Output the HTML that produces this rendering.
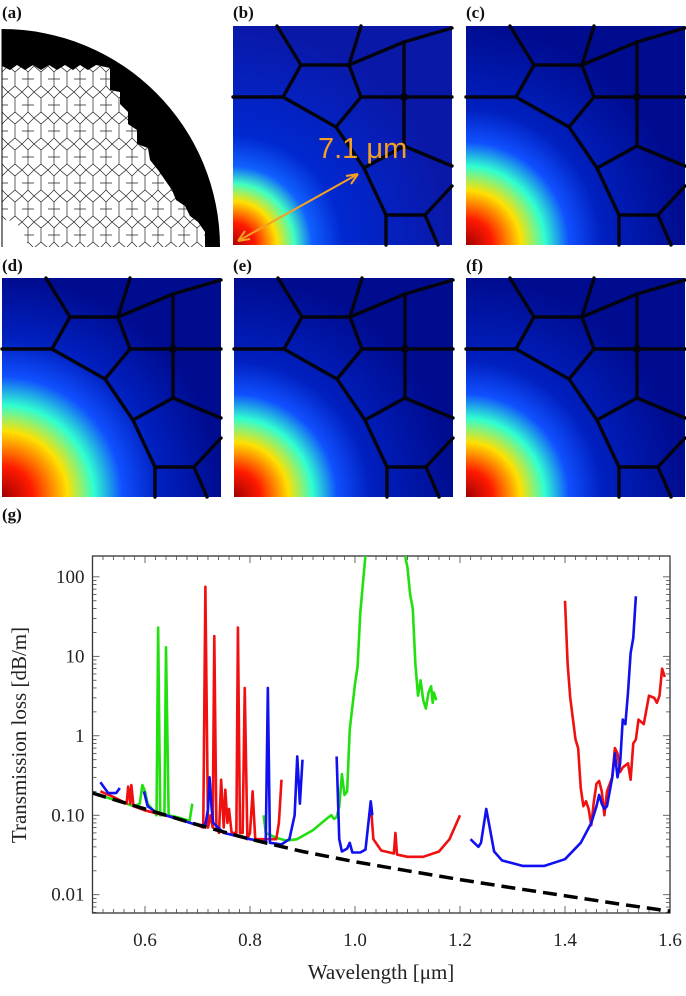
<!DOCTYPE html>
<html><head><meta charset="utf-8"><style>
body{margin:0;background:#fff;width:686px;height:991px;overflow:hidden;font-family:"Liberation Serif",serif;}
svg text{font-family:"Liberation Serif",serif;}
</style></head><body>
<svg id="root" width="686" height="991" viewBox="0 0 686 991" xmlns="http://www.w3.org/2000/svg">
<defs>
<radialGradient id="modeB" cx="0" cy="219" r="219" gradientUnits="userSpaceOnUse">
<stop offset="0" stop-color="#b00000"/><stop offset="0.1" stop-color="#ff1a00"/><stop offset="0.2" stop-color="#ffe000"/><stop offset="0.28" stop-color="#40ffc0"/><stop offset="0.36" stop-color="#1060ff"/><stop offset="0.5" stop-color="#0028d0"/><stop offset="1" stop-color="#0a18a8"/></radialGradient>
<radialGradient id="modeC" cx="0" cy="219" r="219" gradientUnits="userSpaceOnUse">
<stop offset="0" stop-color="#a00000"/><stop offset="0.12" stop-color="#ff1a00"/><stop offset="0.25" stop-color="#ffe000"/><stop offset="0.36" stop-color="#30ffd0"/><stop offset="0.47" stop-color="#1050ff"/><stop offset="0.62" stop-color="#0020c0"/><stop offset="1" stop-color="#000c90"/></radialGradient>
<radialGradient id="modeD" cx="0" cy="219" r="219" gradientUnits="userSpaceOnUse">
<stop offset="0" stop-color="#a00000"/><stop offset="0.14" stop-color="#ff1a00"/><stop offset="0.3" stop-color="#ffe000"/><stop offset="0.42" stop-color="#30ffd0"/><stop offset="0.55" stop-color="#1050ff"/><stop offset="0.72" stop-color="#0020c0"/><stop offset="1" stop-color="#000c90"/></radialGradient>
<pattern id="cells" width="26" height="26" patternUnits="userSpaceOnUse" x="2" y="66">
<path d="M0,6 L6,0 M6,0 L13,6 L20,0 L26,6 M13,6 L13,20 M0,6 L0,20 M26,6 L26,20 M0,20 L6,26 L13,20 L20,26 L26,20 M6,13 L0,13 M20,13 L26,13" stroke="#222" stroke-width="0.7" fill="none"/>
</pattern>
</defs>
<g font-weight="bold" font-size="17" fill="#111">
<text x="2" y="18">(a)</text>
<text x="233" y="18">(b)</text>
<text x="466" y="18">(c)</text>
<text x="2" y="271">(d)</text>
<text x="233" y="271">(e)</text>
<text x="466" y="271">(f)</text>
<text x="2" y="520">(g)</text>
</g>
<g>
<path d="M2,247 L2,29 A218,218 0 0 1 220,247 Z" fill="#000"/>
<polygon points="2,247 2,66 10,70 17,65 25,70 33,65 41,70 49,65 57,70 65,65 73,70 80,65 88,70 96,65 110,68 110,90 120,92 120,104 128,112 128,124 137,130 137,144 148,148 150,160 158,170 165,180 172,190 176,200 185,206 190,216 198,222 205,232 205,247" fill="#fff"/>
<polygon points="2,247 2,66 10,70 17,65 25,70 33,65 41,70 49,65 57,70 65,65 73,70 80,65 88,70 96,65 110,68 110,90 120,92 120,104 128,112 128,124 137,130 137,144 148,148 150,160 158,170 165,180 172,190 176,200 185,206 190,216 198,222 205,232 205,247" fill="url(#cells)"/>
<path d="M2,220 Q22,218 28,247 L2,247 Z" fill="#fff"/>
<line x1="2" y1="247" x2="2" y2="29" stroke="#000" stroke-width="1"/>
</g>
<g id="panels"></g>
<g>
<line x1="238" y1="241" x2="358" y2="174" stroke="#f5a020" stroke-width="2"/>
<path d="M358,174 L346,176 M358,174 L351,184 M238,241 L250,239 M238,241 L245,231" stroke="#f5a020" stroke-width="2" fill="none"/>
<text x="318" y="158" font-size="29" fill="#f5a020" style="font-family:'Liberation Sans',sans-serif">7.1 μm</text>
</g>
<g id="chart"></g>
</svg>
<script>
const NS='http://www.w3.org/2000/svg';
function mk(tag,attrs,parent){const e=document.createElementNS(NS,tag);for(const k in attrs)e.setAttribute(k,attrs[k]);parent.appendChild(e);return e;}
const panelList=[[233,26,'modeB','mode-field-b'],[466,26,'modeC','mode-field-c'],[2,278,'modeD','mode-field-d'],[234,278,'modeC','mode-field-e'],[466,278,'modeC','mode-field-f']];
const edges=[[0,71,50,71],[50,71,68,39],[68,39,44,0],[68,39,116,39],[116,39,128,71],[128,71,171,71],[171,71,219,71],[50,71,103,101],[103,101,128,71],[103,101,131,142],[131,142,153,189],[153,189,153,219],[153,189,192,189],[192,189,205,219],[192,189,219,160],[131,142,171,120],[171,120,219,140],[171,120,171,71],[171,71,171,16],[171,16,219,2],[171,16,116,39],[116,39,128,0]];
const pg=document.getElementById('panels');
panelList.forEach(p=>{
  const g=mk('g',{transform:`translate(${p[0]},${p[1]})`},pg);
  
  
  mk('rect',{x:0,y:0,width:219,height:219,fill:`url(#${p[2]})`},g);
  edges.forEach(e=>mk('line',{x1:e[0],y1:e[1],x2:e[2],y2:e[3],stroke:'#04040f','stroke-width':3.4,'stroke-linecap':'round'},g));
  mk('circle',{cx:171,cy:71,r:3,fill:'none',stroke:'#04040f','stroke-width':2},g);
  if(p[3]==='mode-field-d') mk('line',{x1:153,y1:189,x2:153,y2:219,stroke:'#04040f','stroke-width':2},g);
});
// ---- chart data ----
const xTicks=[0.6,0.8,1.0,1.2,1.4,1.6];
const xTickLabels=['0.6','0.8','1.0','1.2','1.4','1.6'];
const yTicks=[100,10,1,0.1,0.01];
const yTickLabels=['100','10','1','0.10','0.01'];
const dashedW=[0.5,0.6,0.7,0.8,0.9,1.0,1.1,1.2,1.3,1.4,1.5,1.6];
const dashedL=[0.19,0.12,0.076,0.05,0.035,0.026,0.02,0.0155,0.0122,0.0097,0.0077,0.0062];
const greenSegs=[
 [[0.5,0.19],[0.55,0.15],[0.58,0.13],[0.59,0.14],[0.595,0.24],[0.6,0.2],[0.605,0.14],[0.618,0.11],[0.622,0.1],[0.625,23],[0.629,0.1],[0.637,0.1],[0.64,13],[0.645,0.1],[0.66,0.095],[0.685,0.085],[0.69,0.14]],
 [[0.826,0.1],[0.83,0.06],[0.85,0.052],[0.87,0.048],[0.89,0.05],[0.92,0.065],[0.95,0.095],[0.955,0.1],[0.96,0.09],[0.965,0.095],[0.97,0.13],[0.975,0.33],[0.98,0.18],[0.985,0.2],[0.99,1.2],[1.0,4.5],[1.005,7.5],[1.01,35],[1.02,190]],
 [[1.095,190],[1.1,130],[1.105,60],[1.11,40],[1.115,8],[1.12,3.2],[1.125,5],[1.13,2.8],[1.135,2.2],[1.14,3.5],[1.145,4.2],[1.148,2.6],[1.15,3.5],[1.155,2.8]]];
const redSegs=[
 [[0.515,0.2],[0.54,0.17],[0.565,0.14],[0.568,0.23],[0.572,0.14],[0.574,0.24],[0.578,0.13],[0.6,0.115],[0.65,0.095],[0.7,0.075],[0.711,0.07],[0.715,75],[0.72,0.07],[0.725,0.1],[0.729,0.07],[0.732,18],[0.736,0.07],[0.741,0.06],[0.745,0.28],[0.75,0.07],[0.753,0.21],[0.757,0.08],[0.76,0.12],[0.765,0.06],[0.774,0.06],[0.777,23],[0.781,0.06],[0.786,0.06],[0.79,4],[0.795,0.05],[0.8,0.06],[0.805,0.2],[0.81,0.05],[0.84,0.05],[0.85,0.05],[0.855,0.08],[0.86,0.28]],
 [[1.03,0.14],[1.035,0.05],[1.05,0.036],[1.074,0.033],[1.077,0.06],[1.08,0.032],[1.1,0.03],[1.13,0.03],[1.16,0.035],[1.18,0.05],[1.2,0.1]],
 [[1.4,50],[1.405,8],[1.41,3],[1.42,0.9],[1.425,0.7],[1.43,0.22],[1.435,0.13],[1.44,0.15],[1.445,0.12],[1.45,0.075],[1.455,0.15],[1.46,0.25],[1.465,0.27],[1.47,0.2],[1.475,0.1],[1.48,0.2],[1.49,0.3],[1.495,0.7],[1.5,0.6],[1.505,0.35],[1.51,0.4],[1.52,0.45],[1.525,0.28],[1.53,0.8],[1.535,0.9],[1.54,1.6],[1.55,1.4],[1.56,3.2],[1.57,3.0],[1.575,2.6],[1.58,3.2],[1.585,7],[1.59,5.5]]];
const blueSegs=[
 [[0.515,0.26],[0.53,0.19],[0.545,0.19],[0.552,0.22]],
 [[0.598,0.2],[0.605,0.13],[0.62,0.11],[0.65,0.095],[0.7,0.075],[0.715,0.075],[0.72,0.12],[0.723,0.3],[0.727,0.12],[0.73,0.08],[0.75,0.06],[0.8,0.05],[0.83,0.046],[0.834,4],[0.838,0.045],[0.86,0.043],[0.875,0.05],[0.885,0.1],[0.89,0.55],[0.895,0.14],[0.9,0.5]],
 [[0.965,0.55],[0.97,0.05],[0.975,0.035],[0.985,0.038],[0.99,0.045],[0.995,0.034],[1.01,0.034],[1.02,0.037],[1.03,0.15],[1.033,0.1]],
 [[1.22,0.05],[1.235,0.04],[1.24,0.045],[1.25,0.12],[1.255,0.08],[1.265,0.035],[1.28,0.027],[1.32,0.023],[1.36,0.023],[1.4,0.028],[1.43,0.045],[1.45,0.08],[1.46,0.13],[1.465,0.18],[1.47,0.14],[1.475,0.12],[1.48,0.13],[1.49,0.3],[1.495,0.6],[1.5,0.3],[1.505,0.45],[1.51,1.6],[1.515,1.4],[1.52,3.5],[1.525,11],[1.53,17],[1.535,57]]];
const PL=92.5,PR=670,PT=556,PB=913;
const X0=0.5,X1=1.6,LT=Math.log10(183),LB=-2.23;
const xs=w=>PL+(w-X0)/(X1-X0)*(PR-PL);
const ys=v=>PT+(LT-Math.log10(v))/(LT-LB)*(PB-PT);
const ch=document.getElementById('chart');
const clip=mk('clipPath',{id:'pclip'},ch);mk('rect',{x:PL,y:PT,width:PR-PL,height:PB-PT},clip);
const frame=mk('rect',{x:PL,y:PT,width:PR-PL,height:PB-PT,fill:'none',stroke:'#333','stroke-width':1.3},ch);


for(let w=0.5;w<=1.6001;w+=0.02){const x=xs(w);const major=Math.abs(w*10-Math.round(w*10))<1e-6&&Math.round(w*10)%2===0;const L=major?7:4;
 mk('line',{x1:x,y1:PB,x2:x,y2:PB-L,stroke:'#444','stroke-width':0.8},ch);mk('line',{x1:x,y1:PT,x2:x,y2:PT+L,stroke:'#444','stroke-width':0.8},ch);}
for(let d=-3;d<=2;d++){for(let m=1;m<10;m++){const v=m*Math.pow(10,d);const y=ys(v);if(y<PT||y>PB)continue;const L=m===1?7:4;
 mk('line',{x1:PL,y1:y,x2:PL+L,y2:y,stroke:'#444','stroke-width':0.8},ch);mk('line',{x1:PR,y1:y,x2:PR-L,y2:y,stroke:'#444','stroke-width':0.8},ch);}}
xTicks.forEach((w,i)=>{const t=mk('text',{x:xs(w),y:946,'font-size':19,'text-anchor':'middle',fill:'#222'},ch);t.textContent=xTickLabels[i];
 
 });
yTicks.forEach((v,i)=>{const t=mk('text',{x:PL-8,y:ys(v)+6,'font-size':19,'text-anchor':'end',fill:'#222'},ch);t.textContent=yTickLabels[i];
 
 });
const xt=mk('text',{x:381,y:979,'font-size':21,'text-anchor':'middle',fill:'#222'},ch);xt.textContent='Wavelength [μm]';


const yt=mk('text',{x:0,y:0,'font-size':21,'text-anchor':'middle',fill:'#222',transform:'translate(26,735) rotate(-90)'},ch);yt.textContent='Transmission loss [dB/m]';


const series=mk('g',{'clip-path':'url(#pclip)'},ch);
function line(pts,color,name,extra){const d=pts.map((p,i)=>(i?'L':'M')+xs(p[0]).toFixed(2)+','+ys(p[1]).toFixed(2)).join(' ');
 const a={d:d,fill:'none',stroke:color,'stroke-width':2.6,'stroke-linejoin':'round'};Object.assign(a,extra||{});const e=mk('path',a,series);
 
 }
greenSegs.forEach(s=>line(s,'#22e010','green-series'));
redSegs.forEach(s=>line(s,'#f01010','red-series'));
blueSegs.forEach(s=>line(s,'#1010f0','blue-series'));
line(dashedW.map((w,i)=>[w,dashedL[i]]),'#000','material-loss-dashed',{'stroke-dasharray':'14,7','stroke-width':3.5});
</script>
</body></html>
